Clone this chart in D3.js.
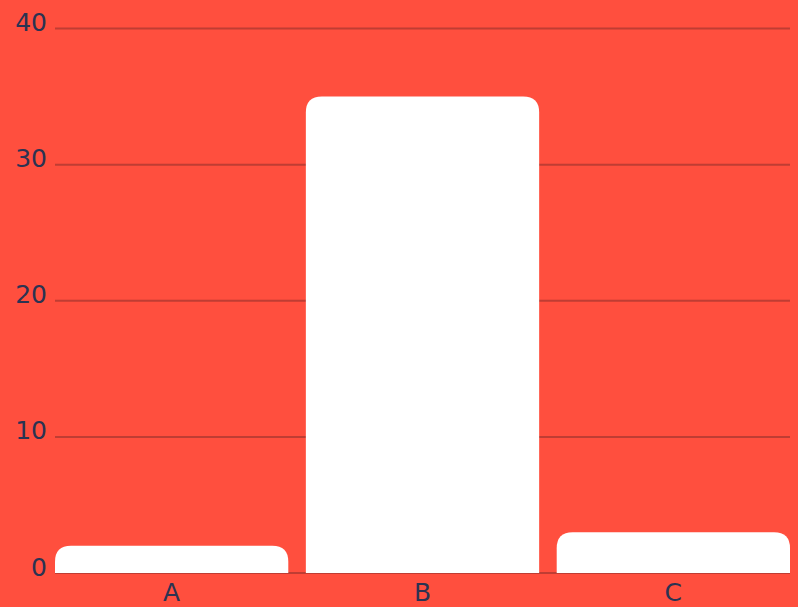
<!DOCTYPE html>
<html><head><meta charset="utf-8">
<script src="https://cdn.jsdelivr.net/npm/d3@7"></script>
<style>
html,body{margin:0;padding:0;background:#ff4f3e;}
svg{display:block;}
text{font-family:"DejaVu Sans","Noto Sans",sans-serif;}
</style></head>
<body><svg id="c" width="798" height="607"></svg>
<script>
const categories = ["A","B","C"];
const values = [2,35,3];
const yTicks = [0,10,20,30,40];

const W=798,H=607;
const svg=d3.select("#c");
svg.append("rect").attr("width",W).attr("height",H).attr("fill","#ff4f3e");
const x=d3.scaleBand().domain(categories).range([55,790]).paddingInner(0.07).paddingOuter(0);
const y=d3.scaleLinear().domain([0,40]).range([573,28.5]);

const grid=svg.append("g");
grid.selectAll("line").data(yTicks).join("line")
  .attr("x1",55).attr("x2",790)
  .attr("y1",d=>y(d)).attr("y2",d=>y(d))
  .attr("stroke","#b53a32").attr("stroke-width",2).attr("opacity",0.85);

const yAxis=d3.axisLeft(y).tickValues(yTicks).tickSize(0).tickPadding(0);
const gy=svg.append("g").attr("transform","translate(47,-6)").call(yAxis);
gy.select(".domain").remove();
gy.selectAll("text").attr("font-size",25).attr("fill","#2b3352");

function barPath(d,i){
  const x0=x(categories[i]), w=x.bandwidth(), y0=y(0), y1=y(d);
  const r=Math.min(16,(y0-y1));
  return `M${x0},${y0}V${y1+r}Q${x0},${y1} ${x0+r},${y1}H${x0+w-r}Q${x0+w},${y1} ${x0+w},${y1+r}V${y0}Z`;
}
svg.append("g").selectAll("path").data(values).join("path")
  .attr("d",barPath).attr("fill","#ffffff");

const xAxis=d3.axisBottom(x).tickSize(0).tickPadding(0);
const gx=svg.append("g").attr("transform","translate(0,583)").call(xAxis);
gx.select(".domain").remove();
gx.selectAll("text").attr("font-size",25).attr("fill","#2b3352").attr("dy","0.71em");
</script></body></html>
